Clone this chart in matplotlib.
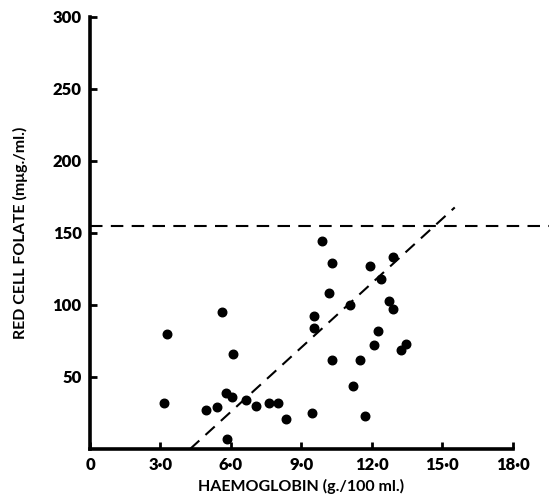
import matplotlib
matplotlib.use("Agg")
import matplotlib.pyplot as plt
import numpy as np

haemoglobin = [3.26, 3.16, 5.60, 6.07, 5.77, 6.04, 6.62, 7.05, 7.62, 7.99, 4.92, 5.39, 5.84,
               8.36, 9.46, 9.87, 9.54, 9.54, 10.30, 10.17, 10.30, 11.06, 11.94, 12.89, 12.41,
               12.71, 12.88, 12.27, 12.09, 13.23, 13.47, 11.50, 11.21, 11.72]
folate = [80, 32, 95, 66, 39, 36, 34, 30, 32, 32, 27, 29, 7,
          21, 25, 144, 92, 84, 129, 108, 62, 100, 127, 133, 118,
          103, 97, 82, 72, 69, 73, 62, 44, 23]

reg_x = [4.26, 15.53]
reg_y = [0, 167.6]
upper_limit = 155

xticks = [0, 3, 6, 9, 12, 15, 18]
xtick_labels = ["0", "3·0", "6·0", "9·0", "12·0", "15·0", "18·0"]
yticks = [50, 100, 150, 200, 250, 300]
ytick_labels = ["50", "100", "150", "200", "250", "300"]

plt.rcParams['font.family'] = ['Lato', 'DejaVu Sans']
fig = plt.figure(figsize=(5.49, 4.97), dpi=100)
ax = fig.add_axes([0.164, 0.0966, 0.770, 0.870])

ax.scatter(haemoglobin, folate, s=38, color='black', zorder=3, clip_on=False)
ax.plot(reg_x, reg_y, color='black', lw=1.5, dashes=(6, 4), clip_on=False)
ax.plot([0, 19.6], [upper_limit, upper_limit], color='black', lw=1.5, dashes=(6, 4), clip_on=False)

ax.set_xlim(0, 18)
ax.set_ylim(0, 300)
for s in ['top', 'right']:
    ax.spines[s].set_visible(False)
for s in ['left', 'bottom']:
    ax.spines[s].set_linewidth(2.6)
ax.set_xticks(xticks)
ax.set_xticklabels(xtick_labels, fontsize=12, fontweight='heavy')
ax.set_yticks(yticks)
ax.set_yticklabels(ytick_labels, fontsize=12, fontweight='heavy')
ax.tick_params(direction='in', length=5, width=2, pad=6)
ax.set_xlabel("HAEMOGLOBIN (g./100 ml.)", fontsize=11.5, fontweight='bold', labelpad=4)
ax.set_ylabel("RED CELL FOLATE (mμg./ml.)", fontsize=11.5, fontweight='bold', labelpad=18)

fig.savefig("out.png", dpi=100)
